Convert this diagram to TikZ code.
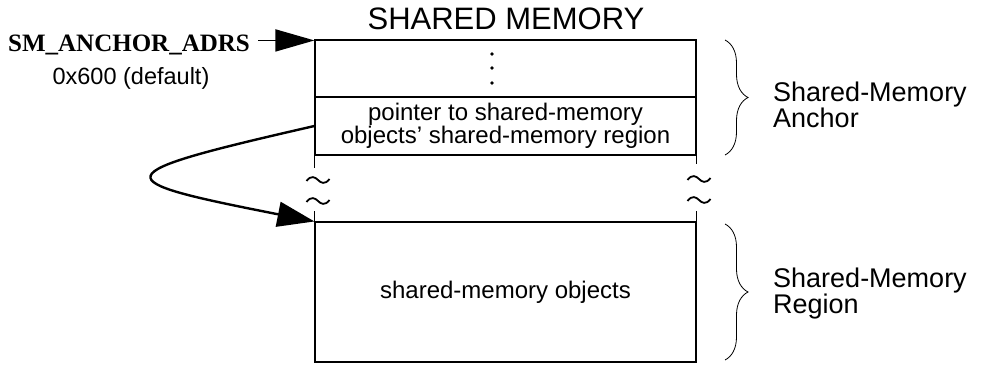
\documentclass[tikz,border=0pt]{standalone}
\usepackage{fontspec}
\setmainfont{Liberation Sans}
\newfontfamily\smserif{Liberation Serif}
\usetikzlibrary{arrows.meta,decorations.pathreplacing}
\begin{document}
\begin{tikzpicture}[x=1pt,y=1pt,
  cellbox/.style={draw=black, line width=1.1pt, minimum width=381pt, inner sep=0pt, align=center},
  celltext/.style={font=\fontsize{24}{23}\selectfont},
  sidelabel/.style={font=\fontsize{27}{25}\selectfont, align=left, inner sep=0pt, anchor=north west},
  gapline/.style={line width=1.1pt},
  tildemark/.style={line width=1.8pt},
  bigarrow/.style={line width=2.4pt, -{Triangle[length=37pt,width=25pt]}},
  ancarrow/.style={line width=1.6pt, -{Triangle[length=39pt,width=22pt]}},
  bracemark/.style={line width=0.8pt, decorate, decoration={brace, amplitude=23pt}},
  dotmark/.style={fill=black, draw=none}]
\useasboundingbox (0,0) rectangle (983,-366);

% title
\node[font=\fontsize{31}{31}\selectfont, anchor=base, inner sep=0pt] (title) at (506,-30) {SHARED MEMORY};

% memory cells
\node[cellbox, minimum height=57pt] (topcell) at (505.5,-68.5) {};
\node[cellbox, celltext, minimum height=58pt] (ptr) at (505.5,-126) {pointer to shared-memory\\objects’ shared-memory region};
\node[cellbox, celltext, minimum height=140pt] (objs) at (505.5,-292) {shared-memory objects};

% vertical dots
\fill[dotmark] (492,-54) circle (1.9pt);
\fill[dotmark] (492,-68) circle (1.9pt);
\fill[dotmark] (492,-83) circle (1.9pt);

% broken side lines
\draw[gapline] (ptr.south west) -- ++(0,-12);
\draw[gapline] (ptr.south east) -- ++(0,-8);
\draw[gapline] (objs.north west) -- ++(0,10);
\draw[gapline] (objs.north east) -- ++(0,10);

% tildes
\foreach \tx/\ty in {318/-180, 318/-201, 699/-179, 699/-200}{
  \draw[tildemark] (\tx-11.5,\ty-1) .. controls (\tx-7,\ty+5) and (\tx-3,\ty+3) .. (\tx,\ty)
     .. controls (\tx+3,\ty-3) and (\tx+7,\ty-5) .. (\tx+11.5,\ty+1);
}

% anchor address label and arrow
\node[font=\smserif\bfseries\fontsize{25}{25}\selectfont, anchor=base west, inner sep=0pt] (sm) at (8,-52) {SM\_ANCHOR\_ADRS};
\node[font=\fontsize{23.5}{23.5}\selectfont, anchor=base, inner sep=0pt] (dflt) at (131,-85) {0x600 (default)};
\coordinate (tipA) at ([yshift=-1pt]topcell.north west);
\draw[ancarrow] ([xshift=8pt]sm.east |- tipA) -- (tipA);

% pointer arrow
\draw[bigarrow] (ptr.west) .. controls (100,-175) and (104,-180) .. (objs.north west);

% braces and labels
\coordinate (b1t) at (725,-40);
\coordinate (b1b) at (725,-155);
\coordinate (b2t) at (725,-224);
\coordinate (b2b) at (725,-360);
\draw[bracemark] (b1t) -- (b1b);
\draw[bracemark] (b2t) -- (b2b);
\node[sidelabel] (lblA) at (773,-82) {Shared-Memory\\Anchor};
\node[sidelabel] (lblR) at (773,-268) {Shared-Memory\\Region};
\end{tikzpicture}
\end{document}
